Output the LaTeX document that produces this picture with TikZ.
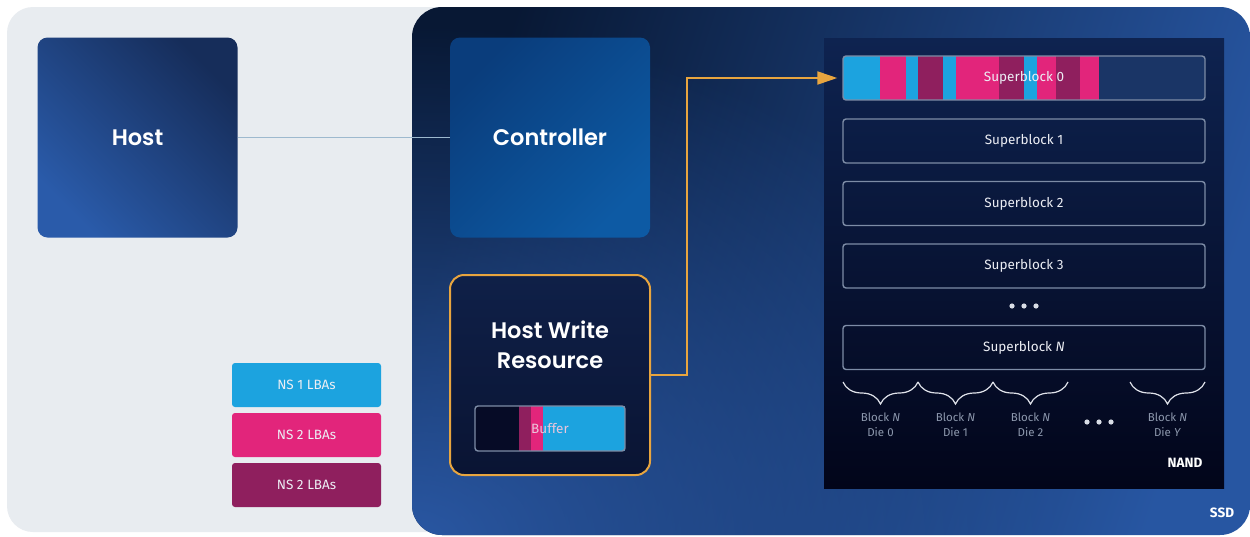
\documentclass[tikz,border=0pt]{standalone}
\usepackage{fontspec}
\setmainfont{Fira Sans}
\newfontfamily\headfont{Poppins}[BoldFont={Poppins SemiBold}]
\usetikzlibrary{arrows.meta,decorations.pathreplacing,calc,fadings}

\tikzfading[name=glowfade, inner color=transparent!0, outer color=transparent!100]

\definecolor{panel}{HTML}{E8ECF0}
\definecolor{ssdA}{HTML}{081834}
\definecolor{ssdB}{HTML}{2756A2}
\definecolor{ssdGlow}{HTML}{2A58A4}
\definecolor{nandTop}{HTML}{0E2350}
\definecolor{nandBot}{HTML}{02051A}
\definecolor{hostA}{HTML}{2A5BAA}
\definecolor{hostB}{HTML}{162D5A}
\definecolor{ctrlA}{HTML}{0A3D7C}
\definecolor{ctrlB}{HTML}{0D5AA4}
\definecolor{hwrA}{HTML}{0A1433}
\definecolor{hwrB}{HTML}{0F2048}
\definecolor{accent}{HTML}{E8A53F}
\definecolor{nscyan}{HTML}{1CA3DF}
\definecolor{nspink}{HTML}{E2257B}
\definecolor{nsplum}{HTML}{8F1F5E}
\definecolor{bufdark}{HTML}{060B26}
\definecolor{sbedge}{HTML}{7D8CA6}
\definecolor{sbrest}{HTML}{1A3566}
\definecolor{linkline}{HTML}{9DB9CE}
\definecolor{labelgray}{HTML}{8D98AD}
\definecolor{softwhite}{HTML}{ECEEF4}

\tikzset{
  bigbox/.style={rounded corners=10pt, minimum width=200pt, minimum height=200pt, inner sep=0pt},
  headtext/.style={text=white, font=\headfont\bfseries\fontsize{22.5}{27}\selectfont, align=center},
  sbbox/.style={draw=sbedge, line width=1.4pt, rounded corners=3pt, minimum width=362pt, minimum height=44pt, inner sep=0pt,
    text=softwhite, font=\fontsize{13.5}{16}\selectfont},
  legendbox/.style={rounded corners=3pt, minimum width=149pt, minimum height=44pt, inner sep=0pt,
    text=softwhite, font=\fontsize{13.5}{16}\selectfont},
  dielabel/.style={text=labelgray, font=\fontsize{11.5}{15}\selectfont, align=center},
  diebrace/.style={draw=softwhite!85!labelgray, line width=1.2pt, decorate,
    decoration={brace, mirror, amplitude=22pt, aspect=0.5}},
  dot/.style={fill=softwhite!80!labelgray, draw=none},
  corner/.style={text=white, font=\bfseries\fontsize{13.5}{16}\selectfont}
}

\begin{document}
\begin{tikzpicture}[x=1pt, y=-1pt]
\useasboundingbox (0,0) rectangle (1250,536);
\fill[white] (0,0) rectangle (1250,536);

% light host-side panel
\fill[panel, rounded corners=26pt] (7,7) rectangle (1246,532);

% SSD enclosure: diagonal base gradient plus a soft glow in the lower left
\shade[rounded corners=30pt, left color=ssdA, right color=ssdB, shading angle=72]
  (412,7) rectangle (1250,535);
\begin{scope}
  \clip[rounded corners=30pt] (412,7) rectangle (1250,535);
  \fill[ssdGlow, path fading=glowfade] (412,545) ellipse (680pt and 520pt);
\end{scope}
\node[corner] (ssdlabel) at (1222,513) {SSD};

% NAND array
\shade[top color=nandTop, bottom color=nandBot] (824,38) rectangle (1224,488);
\node[corner] (nandlabel) at (1185,463) {NAND};

% Host and controller
\node[bigbox, shade, left color=hostA, right color=hostB, shading angle=135] (host) at (137.5,137.5) {};
\node[headtext] at (host) {Host};
\node[bigbox, shade, left color=ctrlA, right color=ctrlB, shading angle=45] (ctrl) at (550,137.5) {};
\node[headtext] at (ctrl) {Controller};
\draw[linkline, line width=1.3pt] (host.east) -- (ctrl.west);

% Host write resource with its buffer
\node[bigbox, rounded corners=14pt, draw=accent, line width=2pt, shade, top color=hwrB, bottom color=hwrA] (hwr) at (550,375) {};
\node[headtext, text depth=0pt] (hwrtitle) at (550,345) {Host Write\\[3pt]Resource};
\fill[bufdark] (475,406) rectangle (519,451);
\fill[nsplum] (519,406) rectangle (531,451);
\fill[nspink] (531,406) rectangle (543,451);
\fill[nscyan] (543,406) rectangle (625,451);
\node[draw=sbedge, line width=1.4pt, rounded corners=3pt, minimum width=150pt, minimum height=45pt, inner sep=0pt,
  text=softwhite!80!nspink, font=\fontsize{13.5}{16}\selectfont] (buffer) at (550,428.5) {Buffer};

% Superblocks
\begin{scope}
  \clip[rounded corners=3pt] (843,56) rectangle (1205,100);
  \fill[sbrest] (843,56) rectangle (1205,100);
  \foreach \a/\b/\c in {843/880/nscyan, 880/906/nspink, 906/918/nscyan, 918/943/nsplum,
      943/956/nscyan, 956/999/nspink, 999/1024/nsplum, 1024/1037/nscyan,
      1037/1056/nspink, 1056/1080/nsplum, 1080/1099/nspink}
    \fill[\c] (\a,56) rectangle (\b,100);
\end{scope}
\node[sbbox] (sb0) at (1024,78) {Superblock 0};
\node[sbbox] (sb1) at (1024,141) {Superblock 1};
\node[sbbox] (sb2) at (1024,203.5) {Superblock 2};
\node[sbbox] (sb3) at (1024,266) {Superblock 3};
\foreach \x in {1012,1024,1036} \fill[dot] (\x,306) circle (2.6pt);
\node[sbbox] (sbN) at (1024,347.5) {Superblock \textit{N}};

% Write path from the buffer resource into the open superblock
\draw[accent, line width=2pt, -{Triangle[length=20pt, width=13pt]}, shorten >=5pt]
  (hwr.east) -- ++(36,0) |- (sb0.west);

% Per-die blocks of superblock N
\coordinate (b0a) at (843,382);  \coordinate (b0b) at (918,382);
\coordinate (b1a) at (918,382);  \coordinate (b1b) at (993,382);
\coordinate (b2a) at (993,382);  \coordinate (b2b) at (1068,382);
\coordinate (bya) at (1130,382); \coordinate (byb) at (1205,382);
\draw[diebrace] (b0a) -- (b0b);
\draw[diebrace] (b1a) -- (b1b);
\draw[diebrace] (b2a) -- (b2b);
\draw[diebrace] (bya) -- (byb);
\node[dielabel] (d0) at (880.5,425) {Block \textit{N}\\Die 0};
\node[dielabel] (d1) at (955.5,425) {Block \textit{N}\\Die 1};
\node[dielabel] (d2) at (1030.5,425) {Block \textit{N}\\Die 2};
\node[dielabel] (dy) at (1167.5,425) {Block \textit{N}\\Die \textit{Y}};
\foreach \x in {1087,1099,1111} \fill[dot] (\x,422) circle (2.6pt);

% Namespace legend
\node[legendbox, fill=nscyan] (ns1) at (306.5,385) {NS 1 LBAs};
\node[legendbox, fill=nspink] (ns2) at (306.5,435) {NS 2 LBAs};
\node[legendbox, fill=nsplum] (ns3) at (306.5,485) {NS 2 LBAs};
\end{tikzpicture}
\end{document}
